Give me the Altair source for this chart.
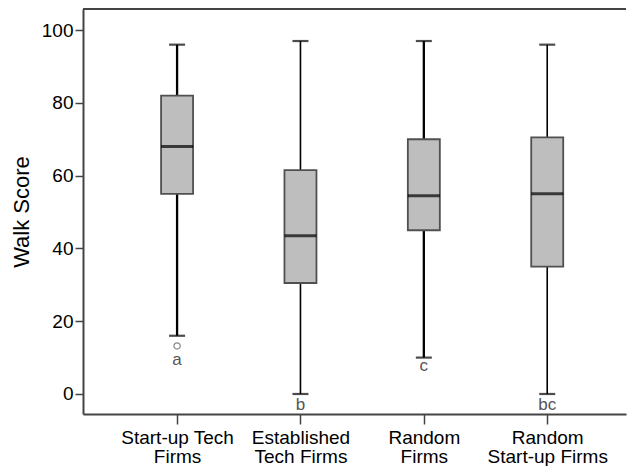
import json
import altair as alt
import pandas as pd

categories = ["Start-up Tech\nFirms", "Established\nTech Firms", "Random\nFirms", "Random\nStart-up Firms"]
whisker_low = [16, 0, 10, 0]
q1 = [55, 30.5, 45, 35]
median = [68, 43.5, 54.5, 55]
q3 = [82, 61.5, 70, 70.5]
whisker_high = [96, 97, 97, 96]
letters = ["a", "b", "c", "bc"]
letter_y = [9.4, -2.9, 7.6, -2.9]
outlier_idx = [0]
outlier_val = [13.2]

idx = list(range(len(categories)))
box = pd.DataFrame({"idx": idx, "lo": whisker_low, "q1": q1, "med": median,
                    "q3": q3, "hi": whisker_high})
lab = pd.DataFrame({"idx": idx, "letter": letters, "y": letter_y})
out = pd.DataFrame({"idx": outlier_idx, "v": outlier_val})

YMIN, YMAX = -5.5, 105.8
XMIN, XMAX = -0.722, 3.598
label_expr = json.dumps([c.split("\n") for c in categories]) + "[datum.value]"

xs = alt.Scale(domain=[XMIN, XMAX], nice=False, zero=False)
ys = alt.Scale(domain=[YMIN, YMAX], nice=False, zero=False)

x_axis = alt.Axis(values=idx, labelExpr=label_expr, title=None, grid=False,
                  tickSize=10, labelPadding=4, labelFontSize=19, labelLineHeight=19,
                  labelColor="black", domainColor="#444", domainWidth=2,
                  tickColor="#444", tickWidth=1.5, labelFont="Liberation Sans")
y_axis = alt.Axis(values=[0, 20, 40, 60, 80, 100], title="Walk Score", grid=False,
                  tickSize=8, labelPadding=2, labelFontSize=19, labelColor="black",
                  titleFontSize=22, titleFontWeight="normal", titleColor="black",
                  titleFont="Liberation Sans", labelFont="Liberation Sans",
                  domainColor="#444", domainWidth=2, tickColor="#444", tickWidth=1.5,
                  titlePadding=8)

base = alt.Chart(box)
X = alt.X("idx:Q", scale=xs, axis=x_axis)

whisk = base.mark_rule(color="black").encode(
    x=X,
    y=alt.Y("lo:Q", scale=ys, axis=y_axis),
    y2="hi:Q",
    strokeWidth=alt.condition("datum.idx % 2 == 0", alt.value(2.3), alt.value(1.6)),
)
caps_lo = base.mark_tick(color="black", orient="horizontal", size=16, thickness=2.2).encode(
    x=alt.X("idx:Q", scale=xs), y=alt.Y("lo:Q", scale=ys))
caps_hi = base.mark_tick(color="black", orient="horizontal", size=16, thickness=2.2).encode(
    x=alt.X("idx:Q", scale=xs), y=alt.Y("hi:Q", scale=ys))
boxes = base.mark_bar(size=32, color="#bebebe", stroke="#505050", strokeWidth=1.8).encode(
    x=alt.X("idx:Q", scale=xs), y=alt.Y("q1:Q", scale=ys), y2="q3:Q")
meds = base.mark_tick(color="black", orient="horizontal", size=32, thickness=3).encode(
    x=alt.X("idx:Q", scale=xs), y=alt.Y("med:Q", scale=ys))
outl = alt.Chart(out).mark_point(shape="circle", filled=False, color="#555", size=40,
                                 strokeWidth=1.2).encode(
    x=alt.X("idx:Q", scale=xs), y=alt.Y("v:Q", scale=ys))
txt = alt.Chart(lab).mark_text(fontSize=17, color="#555", font="Liberation Sans",
                               baseline="middle").encode(
    x=alt.X("idx:Q", scale=xs), y=alt.Y("y:Q", scale=ys), text="letter:N")
top = alt.Chart(pd.DataFrame({"t": [YMAX]})).mark_rule(color="#444", strokeWidth=2).encode(
    y=alt.Y("t:Q", scale=ys))

chart = alt.layer(whisk, caps_lo, caps_hi, boxes, meds, outl, txt, top).properties(
    width=543, height=405, padding={"left": 2, "top": 0, "right": 0, "bottom": 0},
    background="white",
).configure_view(stroke=None)

chart.save("out.html", embed_options={"renderer": "svg", "actions": False})
